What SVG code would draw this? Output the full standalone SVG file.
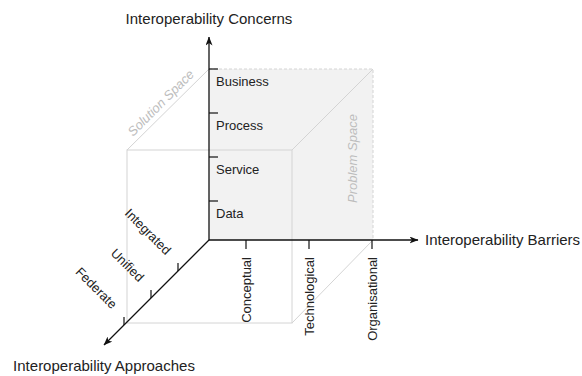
<svg xmlns="http://www.w3.org/2000/svg" width="582" height="376" viewBox="0 0 582 376">
  <style>
    .lbl { font-family: "Liberation Sans", Arial, sans-serif; fill: #222; }
    .title { font-size: 15px; }
    .lvl { font-size: 13px; }
    .space { font-family: "Liberation Sans", Arial, sans-serif; font-size: 13px; font-style: italic; fill: #bdbdbd; }
    .axis { stroke: #111; stroke-width: 1.3; fill: none; }
    .tick { stroke: #111; stroke-width: 1.2; fill: none; }
    .edge { stroke: #d4d4d4; stroke-width: 1; fill: none; }
    .dash { stroke: #d4d4d4; stroke-width: 1; fill: none; stroke-dasharray: 3 2; }
  </style>
  <defs>
    <marker id="arrow" viewBox="0 0 9 7" refX="8.5" refY="3.5" markerWidth="9" markerHeight="7" markerUnits="userSpaceOnUse" orient="auto">
      <path d="M0,0 L9,3.5 L0,7 L2.5,3.5 z" fill="#111"/>
    </marker>
  </defs>

  <rect width="582" height="376" fill="#fff"/>

  <!-- problem space: back face of the cube -->
  <g id="problem-space">
    <rect x="209" y="69" width="164" height="171" fill="#f2f2f2"/>
    <path class="dash" d="M209,69 H373 V240"/>
    <path class="edge" d="M373,69 L292,150"/>
    <path class="edge" d="M373,240 L292,323"/>
    <text class="space" transform="translate(357,203) rotate(-90)">Problem Space</text>
  </g>

  <!-- solution space: front face of the cube -->
  <g id="solution-space">
    <rect class="edge" x="127" y="150" width="165" height="173"/>
    <path class="edge" d="M127,150 L209,69"/>
    <text class="space" text-anchor="middle" transform="translate(164,106) rotate(-45)">Solution Space</text>
  </g>

  <!-- axes -->
  <g id="connectors">
    <line class="axis" x1="209" y1="240" x2="209" y2="37" marker-end="url(#arrow)"/>
    <line class="axis" x1="209" y1="240" x2="418" y2="240" marker-end="url(#arrow)"/>
    <line class="axis" x1="209" y1="240" x2="104" y2="345" marker-end="url(#arrow)"/>
  </g>

  <!-- concerns axis -->
  <g id="axis-concerns">
    <text class="lbl title" x="209" y="24" text-anchor="middle">Interoperability Concerns</text>
  </g>
  <g id="level-business">
    <line class="tick" x1="209" y1="69" x2="218" y2="69"/>
    <text class="lbl lvl" x="216" y="86">Business</text>
  </g>
  <g id="level-process">
    <line class="tick" x1="209" y1="113" x2="218" y2="113"/>
    <text class="lbl lvl" x="216" y="130">Process</text>
  </g>
  <g id="level-service">
    <line class="tick" x1="209" y1="157" x2="218" y2="157"/>
    <text class="lbl lvl" x="216" y="174">Service</text>
  </g>
  <g id="level-data">
    <line class="tick" x1="209" y1="201" x2="218" y2="201"/>
    <text class="lbl lvl" x="216" y="218">Data</text>
  </g>

  <!-- barriers axis -->
  <g id="axis-barriers">
    <text class="lbl title" x="425" y="245">Interoperability Barriers</text>
  </g>
  <g id="barrier-conceptual">
    <line class="tick" x1="246" y1="240" x2="246" y2="249"/>
    <text class="lbl lvl" text-anchor="end" transform="translate(251,257) rotate(-90)">Conceptual</text>
  </g>
  <g id="barrier-technological">
    <line class="tick" x1="309" y1="240" x2="309" y2="249"/>
    <text class="lbl lvl" text-anchor="end" transform="translate(314,257) rotate(-90)">Technological</text>
  </g>
  <g id="barrier-organisational">
    <line class="tick" x1="372" y1="240" x2="372" y2="249"/>
    <text class="lbl lvl" text-anchor="end" transform="translate(377,257) rotate(-90)">Organisational</text>
  </g>

  <!-- approaches axis -->
  <g id="axis-approaches">
    <text class="lbl title" x="104" y="371" text-anchor="middle">Interoperability Approaches</text>
  </g>
  <g id="approach-integrated">
    <line class="tick" x1="178" y1="271" x2="178" y2="263"/>
    <text class="lbl lvl" text-anchor="end" transform="translate(165.5,255.5) rotate(45)">Integrated</text>
  </g>
  <g id="approach-unified">
    <line class="tick" x1="151" y1="298" x2="151" y2="290"/>
    <text class="lbl lvl" text-anchor="end" transform="translate(138.5,282.5) rotate(45)">Unified</text>
  </g>
  <g id="approach-federate">
    <line class="tick" x1="124" y1="325" x2="124" y2="317"/>
    <text class="lbl lvl" text-anchor="end" transform="translate(111.5,309.5) rotate(45)">Federate</text>
  </g>
</svg>
